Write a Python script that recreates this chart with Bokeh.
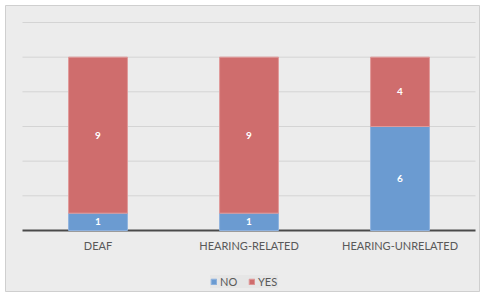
from bokeh.plotting import figure
from bokeh.models import ColumnDataSource, Legend, LegendItem, LabelSet, Range1d
from bokeh.core.properties import value
from bokeh.embed import file_html
from bokeh.resources import INLINE

categories = ["DEAF", "HEARING-RELATED", "HEARING-UNRELATED"]
no_vals = [1, 1, 6]
yes_vals = [9, 9, 4]
grid_ticks = [2, 4, 6, 8, 10, 12]

blue = "#6b9bd1"
red = "#cf6d6d"

xpos = [i + 0.5 for i in range(len(categories))]
no_mid = [n / 2 for n in no_vals]
yes_mid = [n + y / 2 for n, y in zip(no_vals, yes_vals)]
src = ColumnDataSource(dict(x=xpos, cat=categories, NO=no_vals, YES=yes_vals,
                            no_mid=no_mid, yes_mid=yes_mid,
                            no_txt=[str(v) for v in no_vals],
                            yes_txt=[str(v) for v in yes_vals],
                            lab_y=[-0.87] * len(categories)))

n = len(categories)
p = figure(x_range=Range1d(-0.1126, n + 0.033), y_range=Range1d(-3.577, 12.98),
           frame_width=475, frame_height=287,
           output_backend="svg", toolbar_location=None,
           min_border_left=5, min_border_right=0, min_border_top=5, min_border_bottom=0)
p.background_fill_color = "#ececec"
p.border_fill_color = "white"
p.outline_line_color = "#cfcfcf"
p.outline_line_width = 1
p.xaxis.visible = False
p.yaxis.visible = False
p.grid.visible = False

# horizontal gridlines (value ticks) and baseline
p.segment(x0=[0] * len(grid_ticks), x1=[n] * len(grid_ticks), y0=grid_ticks, y1=grid_ticks,
          line_color="#d4d4d4", line_width=1)
p.segment(x0=[0], x1=[n], y0=[0], y1=[0], line_color="#4a4a4a", line_width=2)

r = p.vbar_stack(["NO", "YES"], x="x", width=0.39, source=src,
                 color=[blue, red], line_color=["#8fb3df", "#e09a9a"], line_width=1)

for ycol, tcol in (("no_mid", "no_txt"), ("yes_mid", "yes_txt")):
    p.add_layout(LabelSet(x="x", y=ycol, text=tcol, source=src,
                          text_color="white", text_font_style="bold",
                          text_font=value("Lato"), text_font_size="10px",
                          text_align="center", text_baseline="middle"))

# category labels
p.text(x="x", y="lab_y", text="cat", source=src, text_font=value("Lato"),
       text_font_size="11px", text_color="#595959",
       text_align="center", text_baseline="middle")

legend = Legend(items=[LegendItem(label="NO", renderers=[r[0]]),
                       LegendItem(label="YES", renderers=[r[1]])],
                orientation="horizontal", location=(205, 4),
                label_text_font="Lato", label_text_font_size="11px",
                label_text_color="#595959", glyph_width=7, glyph_height=7,
                label_standoff=3, spacing=8, padding=6, margin=0,
                background_fill_color="#e6e6e6", background_fill_alpha=1,
                border_line_color=None)
p.add_layout(legend, "center")

open("out.html", "w").write(file_html(p, INLINE))
